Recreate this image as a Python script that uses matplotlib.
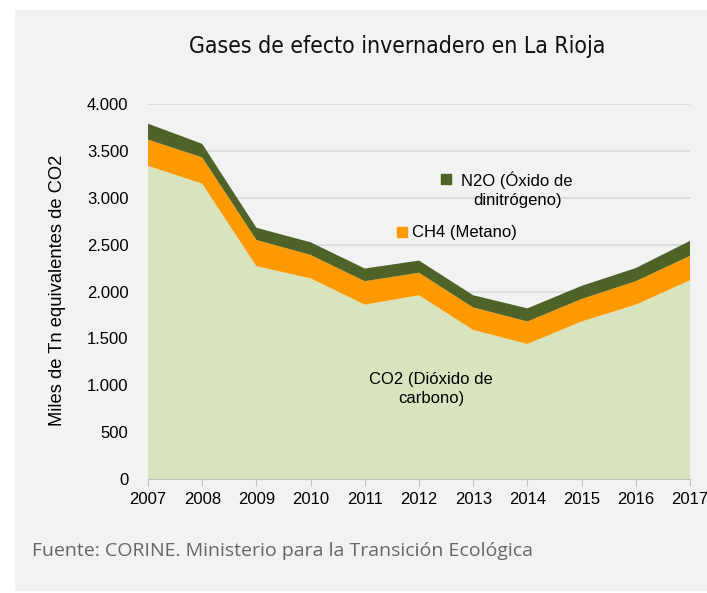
import matplotlib
matplotlib.use("Agg")
import matplotlib.pyplot as plt
from matplotlib.patches import Rectangle

years = [2007, 2008, 2009, 2010, 2011, 2012, 2013, 2014, 2015, 2016, 2017]
co2 = [3340, 3150, 2270, 2140, 1860, 1960, 1590, 1440, 1680, 1860, 2120]
ch4 = [280, 280, 280, 250, 250, 240, 240, 240, 240, 250, 260]
n2o = [170, 145, 130, 135, 135, 130, 130, 140, 140, 140, 160]
yticks = [0, 500, 1000, 1500, 2000, 2500, 3000, 3500, 4000]
ytick_labels = ["0", "500", "1.000", "1.500", "2.000", "2.500", "3.000", "3.500", "4.000"]

c_co2 = "#d7e4bd"
c_ch4 = "#ff9900"
c_n2o = "#4f6228"

W, H = 707, 593
fig = plt.figure(figsize=(W / 100, H / 100), dpi=100)
fig.patch.set_facecolor("white")
fig.patches.append(Rectangle((15 / W, 2 / H), 1 - 15 / W, (591 - 10) / H,
                             transform=fig.transFigure, facecolor="#f2f2f2",
                             edgecolor="none", zorder=-10))

ax = fig.add_axes([148 / W, (H - 479) / H, 542 / W, 375 / H])
ax.set_zorder(1)
ax.set_facecolor("none")
ax.stackplot(years, co2, ch4, n2o, colors=[c_co2, c_ch4, c_n2o], linewidth=0, zorder=2)
ax.set_xlim(years[0], years[-1])
ax.set_ylim(0, 4000)
ax.set_yticks(yticks)
ax.set_yticklabels(ytick_labels)
ax.set_xticks(years)
ax.set_xticklabels([str(y) for y in years])
for s in ["top", "right", "left"]:
    ax.spines[s].set_visible(False)
ax.spines["bottom"].set_color("#bfbfbf")
ax.spines["bottom"].set_zorder(3)
ax.tick_params(axis="x", direction="out", length=5, color="#bfbfbf", pad=4,
               labelsize=12, labelcolor="black")
ax.tick_params(axis="y", length=0, pad=14, labelsize=12, labelcolor="black")
for lab in ax.get_xticklabels() + ax.get_yticklabels():
    lab.set_family("Liberation Sans")
ax.yaxis.grid(True, color="#d9d9d9", linewidth=1.2, zorder=1)
ax.set_axisbelow(True)

fig.text(58 / W, (H - 290) / H, "Miles de Tn equivalentes de CO2", rotation=90,
         ha="center", va="center", fontsize=13.2, family="Liberation Sans")

fig.text(397 / W, (H - 46) / H, "Gases de efecto invernadero en La Rioja",
         ha="center", va="center", fontsize=16.5, family="DejaVu Sans",
         fontstretch="condensed", color="#111111")

fig.text(32 / W, (H - 551) / H, "Fuente: CORINE. Ministerio para la Transición Ecológica",
         ha="left", va="center", fontsize=14, family="Open Sans", color="#666666")

# series labels
ax.text(0.681, 0.771, "N2O (Óxido de\ndinitrógeno)", transform=ax.transAxes,
        ha="center", va="center", fontsize=12, family="Liberation Sans",
        linespacing=1.3, zorder=4)
ax.scatter([(446 - 148) / 542], [(479 - 179) / 375], marker="s", s=60,
           color=c_n2o, transform=ax.transAxes, clip_on=False, zorder=4)
ax.text((412 - 148) / 542, (479 - 232) / 375, "CH4 (Metano)", transform=ax.transAxes,
        ha="left", va="center", fontsize=12, family="Liberation Sans", zorder=4)
ax.scatter([(402 - 148) / 542], [(479 - 232) / 375], marker="s", s=60,
           color=c_ch4, transform=ax.transAxes, clip_on=False, zorder=4)
ax.text(0.522, 0.24, "CO2 (Dióxido de\ncarbono)", transform=ax.transAxes,
        ha="center", va="center", fontsize=12, family="Liberation Sans",
        linespacing=1.3, zorder=4)

fig.savefig("out.png", dpi=100)
